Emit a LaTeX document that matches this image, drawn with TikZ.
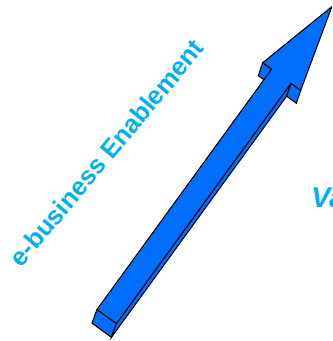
\documentclass[tikz,border=0pt]{standalone}
\usepackage{fontspec}
\setmainfont{Liberation Sans}
\definecolor{flecha}{RGB}{0,110,255}
\definecolor{texto}{RGB}{0,176,240}
\tikzset{
  cara/.style={fill=flecha,draw=black,line width=0.8pt,line join=miter},
  rotulo/.style={text=texto,inner sep=0pt}
}
\begin{document}
\begin{tikzpicture}[x=0.75pt,y=0.75pt]
            \clip (0,0) rectangle (332,341);
            % flecha en 3D
            \begin{scope}[shift={(97,31.5)},rotate=-36]
            \coordinate (A) at (0,0);   \coordinate (A2) at (4,-14);
            \coordinate (B) at (24,0);  \coordinate (B2) at (28,-14);
            \coordinate (G) at (24,297); \coordinate (G2) at (28,284);
            \coordinate (D) at (36,297); \coordinate (D2) at (40,284);
            \coordinate (E) at (-11,297); \coordinate (E2) at (-7,284);
            \coordinate (F) at (0,297);  \coordinate (F2) at (4,284);
            \coordinate (T) at (12,383);
            \draw[cara] (A) -- (B) -- (B2) -- (A2) -- cycle; % extremo
            \draw[cara] (B) -- (G) -- (G2) -- (B2) -- cycle; % lado derecho
            \draw[cara] (G) -- (D) -- (D2) -- (G2) -- cycle;
            \draw[cara] (E) -- (F) -- (F2) -- (E2) -- cycle;
            \draw[cara] (A) -- (B) -- (G) -- (D) -- (T) -- (E) -- (F) -- cycle; % cara frontal
            \end{scope}
            \node[rotulo,rotate=50,font=\bfseries\fontsize{19.2}{20}\selectfont] (eb) at (106.5,188) {e-business Enablement};
            \node[rotulo,anchor=base west,font=\bfseries\itshape\fontsize{21.5}{24}\selectfont] (va) at (311,133) {Va};
\end{tikzpicture}
\end{document}
